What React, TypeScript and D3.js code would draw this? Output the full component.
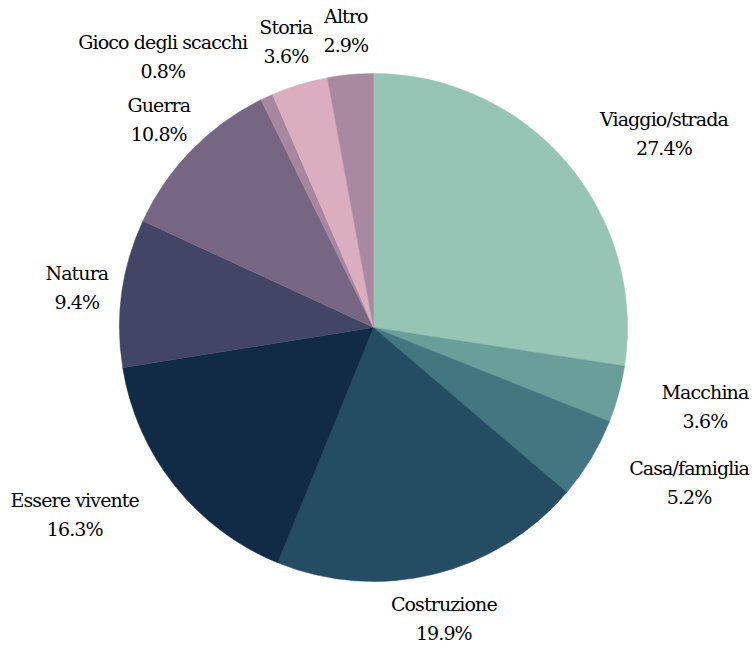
import React from "react";
import * as d3 from "d3";

const categories = [
  "Viaggio/strada",
  "Macchina",
  "Casa/famiglia",
  "Costruzione",
  "Essere vivente",
  "Natura",
  "Guerra",
  "Gioco degli scacchi",
  "Storia",
  "Altro",
];
const values = [27.4, 3.6, 5.2, 19.9, 16.3, 9.4, 10.8, 0.8, 3.6, 2.9];
const colors = [
  "#97c5b5",
  "#6a9e9a",
  "#437681",
  "#244d63",
  "#112a45",
  "#434565",
  "#766684",
  "#a7879f",
  "#dbaebf",
  "#a8899f",
];

const W = 755;
const H = 646;
const CX = 373.5;
const CY = 327.5;
const R = 254;
const LABEL_R = 299;
const FONT = "DejaVu Serif";
const FS = 19;
const LINE = 29;
const TARGET_W = 169; // width of the widest label in the reference

let ctx: CanvasRenderingContext2D | null = null;
function rawMeasure(t: string): number {
  if (!ctx) {
    const c = document.createElement("canvas");
    ctx = c.getContext("2d");
  }
  if (!ctx) return t.length * FS * 0.55;
  ctx.font = `${FS}px "${FONT}"`;
  return ctx.measureText(t).width;
}

export default function App() {
  const data = categories.map((c, i) => ({ name: c, value: values[i], color: colors[i] }));
  const pie = d3
    .pie<any>()
    .value((d) => d.value)
    .sort(null)
    .startAngle(0)
    .endAngle(2 * Math.PI);
  const arcs = pie(data);
  const arcGen = d3.arc<any>().innerRadius(0).outerRadius(R);

  const widestName = categories.reduce((a, b) => (rawMeasure(b) > rawMeasure(a) ? b : a));
  const LS = (TARGET_W - rawMeasure(widestName)) / widestName.length;
  const measure = (t: string) => rawMeasure(t) + LS * t.length;

  const halfH = 22;
  const pad = 5;

  const labels = arcs.map((a) => {
    const mid = (a.startAngle + a.endAngle) / 2;
    const px = CX + LABEL_R * Math.sin(mid);
    const py = CY - LABEL_R * Math.cos(mid);
    const l1 = a.data.name;
    const l2 = `${a.data.value.toFixed(1)}%`;
    const bw = Math.max(measure(l1), measure(l2));
    const x0 = px - bw / 2, x1 = px + bw / 2, y0 = py - halfH, y1 = py + halfH;
    const nx = Math.max(x0, Math.min(CX, x1));
    const ny = Math.max(y0, Math.min(CY, y1));
    const dist = Math.hypot(nx - CX, ny - CY);
    let cxText = px;
    if (dist < R + pad) {
      cxText = px > CX ? px + bw / 2 : px - bw / 2;
    }
    return { l1, l2, x: cxText, y: py };
  });

  return (
    <svg
      width={W}
      height={H}
      style={{ position: "absolute", left: 0, top: 0, background: "#fff" }}
    >
      <g transform={`translate(${CX},${CY})`}>
        {arcs.map((a, i) => (
          <path key={i} d={arcGen(a) || ""} fill={a.data.color} stroke={a.data.color} strokeWidth={0.5} />
        ))}
      </g>
      <g fontFamily={FONT} fontSize={FS} fill="#000" textAnchor="middle" letterSpacing={LS}>
        {labels.map((l, i) => (
          <text key={i}>
            <tspan x={l.x + LS / 2} y={l.y - 7}>{l.l1}</tspan>
            <tspan x={l.x + LS / 2} y={l.y - 7 + LINE}>{l.l2}</tspan>
          </text>
        ))}
      </g>
    </svg>
  );
}
